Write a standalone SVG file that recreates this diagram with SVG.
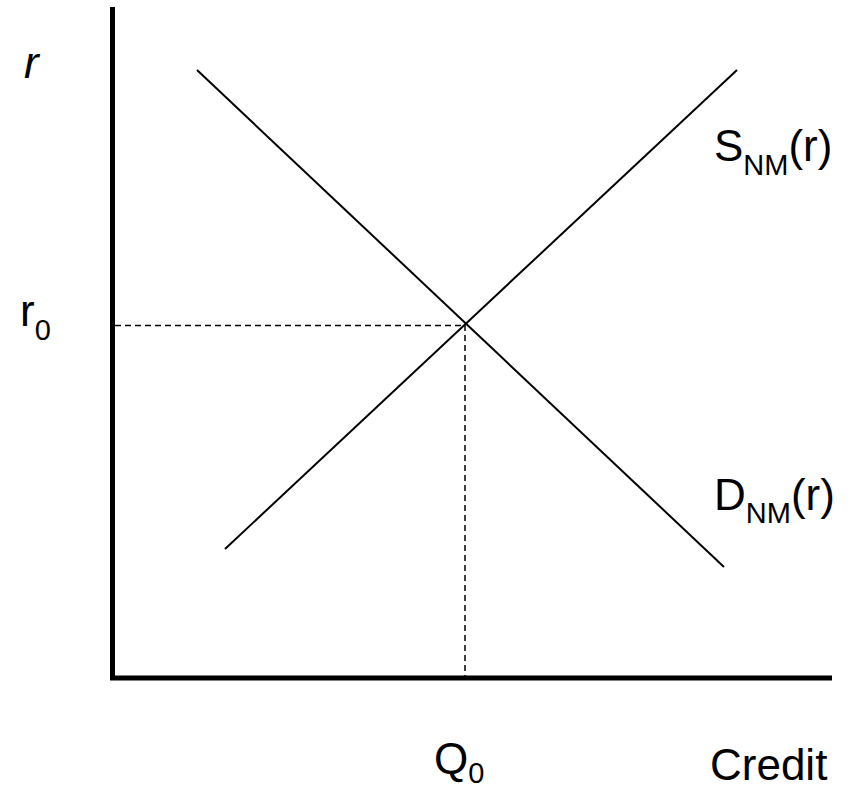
<svg xmlns="http://www.w3.org/2000/svg" width="850" height="790" viewBox="0 0 850 790">
<style>
text{font-family:"Liberation Sans",Arial,sans-serif;fill:#000;}
.lbl{font-size:44px;}
.sub{font-size:29px;}
.axis{stroke:#000;stroke-width:5;fill:none;}
.curve{stroke:#000;stroke-width:2;fill:none;}
.dash{stroke:#000;stroke-width:1.5;stroke-dasharray:6 4;fill:none;}
</style>
<rect width="850" height="790" fill="#fff"/>
<g id="connectors">
<path class="dash" d="M115,325.5 H465"/>
<path class="dash" d="M465,325 V676"/>
<line class="curve" x1="197" y1="70" x2="724" y2="567"/>
<line class="curve" x1="225" y1="549" x2="737" y2="70"/>
<path class="axis" d="M112.5,7 V678 H832"/>
</g>
<g id="label-r"><text class="lbl" x="24" y="78" font-style="italic">r</text></g>
<g id="label-r0"><text class="lbl" x="20" y="326">r<tspan class="sub" dy="14">0</tspan></text></g>
<g id="label-S"><text class="lbl" x="714" y="161">S<tspan class="sub" dy="14">NM</tspan><tspan dy="-14">(r)</tspan></text></g>
<g id="label-D"><text class="lbl" x="714" y="510">D<tspan class="sub" dy="13">NM</tspan><tspan dy="-13">(r)</tspan></text></g>
<g id="label-Q0"><text class="lbl" x="434" y="774">Q<tspan class="sub" dy="9">0</tspan></text></g>
<g id="label-credit"><text class="lbl" x="710" y="780" font-size="41">Credit</text></g>
</svg>
